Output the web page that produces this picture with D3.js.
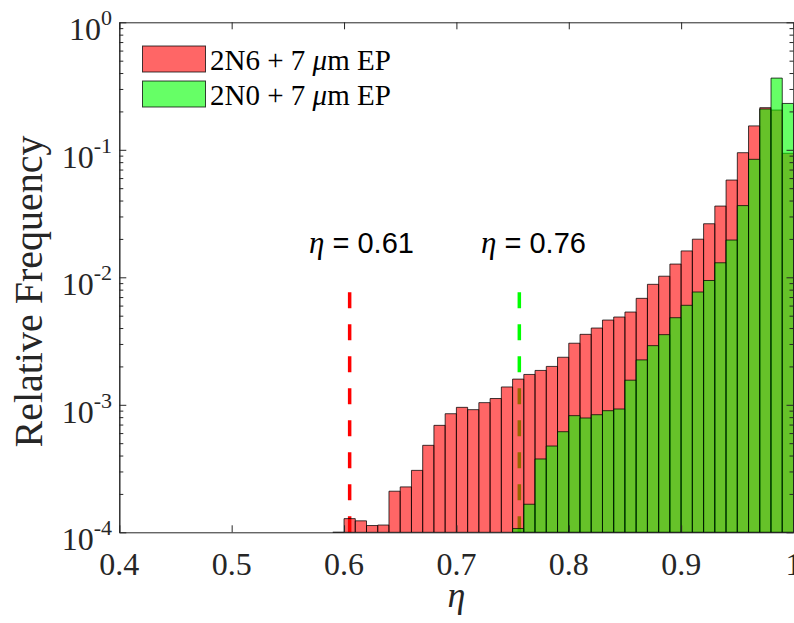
<!DOCTYPE html>
<html><head><meta charset="utf-8">
<script src="https://cdn.jsdelivr.net/npm/d3@7"></script>
<style>
html,body{margin:0;padding:0;background:#fff;}
svg{display:block;}
</style></head>
<body>
<svg id="chart" width="794" height="623"></svg>
<script>
// ---- data ----
const redBins = [0.59,0.60,0.61,0.62,0.63,0.64,0.65,0.66,0.67,0.68,0.69,0.70,0.71,0.72,0.73,0.74,0.75,0.76,0.77,0.78,0.79,0.80,0.81,0.82,0.83,0.84,0.85,0.86,0.87,0.88,0.89,0.90,0.91,0.92,0.93,0.94,0.95,0.96,0.97,0.98,0.99];
const redFreq = [1.0e-4,1.28e-4,1.23e-4,1.13e-4,1.14e-4,2.10e-4,2.27e-4,3.06e-4,4.81e-4,6.90e-4,8.51e-4,9.55e-4,9.16e-4,1.04e-3,1.12e-3,1.38e-3,1.59e-3,1.73e-3,1.86e-3,2.00e-3,2.36e-3,3.04e-3,3.57e-3,4.00e-3,4.62e-3,4.88e-3,5.34e-3,6.84e-3,8.81e-3,1.02e-2,1.27e-2,1.61e-2,1.99e-2,2.63e-2,3.62e-2,5.79e-2,9.49e-2,0.154,0.214,0.205,0.0939];
const greenBins = [0.75,0.76,0.77,0.78,0.79,0.80,0.81,0.82,0.83,0.84,0.85,0.86,0.87,0.88,0.89,0.90,0.91,0.92,0.93,0.94,0.95,0.96,0.97,0.98,0.99];
const greenFreq = [1.07e-4,1.66e-4,3.76e-4,4.75e-4,6.15e-4,8.22e-4,7.88e-4,8.36e-4,8.99e-4,9.27e-4,1.56e-3,2.25e-3,2.91e-3,3.55e-3,4.82e-3,6.03e-3,7.67e-3,9.44e-3,1.30e-2,1.96e-2,3.65e-2,8.42e-2,0.209,0.365,0.231];
const binWidth = 0.01;
const seriesNames = ["2N6 + 7 ", "2N0 + 7 "];
const xTicks = [0.4,0.5,0.6,0.7,0.8,0.9,1];
const xTickLabels = ["0.4","0.5","0.6","0.7","0.8","0.9","1"];
const yTicks = [1e-4,1e-3,1e-2,1e-1,1];
const yTickExps = ["-4","-3","-2","-1","0"];
const thresholds = [0.605, 0.756];
const thresholdLabels = ["0.61", "0.76"];
const thresholdTop = 1e-2;

// ---- layout ----
const svg = d3.select("#chart");
const X0 = 119.3, X1 = 793.5, Y0 = 532.3, Y1 = 22.3;
const x = d3.scaleLinear().domain([0.4, 1]).range([X0, X1]);
const y = d3.scaleLog().domain([1e-4, 1]).range([Y0, Y1]);
const serif = "'Liberation Serif','Times New Roman',serif";
const sans = "'Liberation Sans',Arial,sans-serif";
const axisColor = "#262626";

// threshold dashed lines (under bars)
const lineColors = ["#ff0000", "#00ff00"];
thresholds.forEach((t, i) => {
  svg.append("line")
    .attr("x1", x(t)).attr("x2", x(t))
    .attr("y1", y(1e-4)).attr("y2", y(thresholdTop))
    .attr("stroke", lineColors[i]).attr("stroke-width", 3.5)
    .attr("stroke-dasharray", "16,16");
});

function barPath(b, v) {
  const x0 = x(b), x1 = x(b + binWidth), yb = y(1e-4), yt = y(v);
  return `M${x0},${yb}V${yt}H${x1}V${yb}Z`;
}
const gBars = svg.append("g");
gBars.selectAll("path.red").data(redBins).join("path")
  .attr("class","red")
  .attr("d", (b, i) => barPath(b, redFreq[i]))
  .attr("fill", "rgba(255,0,0,0.6)")
  .attr("stroke", "rgba(0,0,0,0.75)").attr("stroke-width", 1);
gBars.selectAll("path.green").data(greenBins).join("path")
  .attr("class","green")
  .attr("d", (b, i) => barPath(b, greenFreq[i]))
  .attr("fill", "rgba(0,255,0,0.6)")
  .attr("stroke", "rgba(0,0,0,0.75)").attr("stroke-width", 1);

// ---- axes ----
const minorY = [];
yTicks.slice(0, -1).forEach(d => { for (let k = 2; k <= 9; k++) minorY.push(d * k); });

function styleAxis(g) {
  g.selectAll("path.domain").attr("stroke", axisColor).attr("stroke-width", 1);
  g.selectAll(".tick line").attr("stroke", axisColor).attr("stroke-width", 1);
  g.selectAll(".tick text").remove();
}
svg.append("g").attr("transform", `translate(0,${Y0})`)
  .call(d3.axisBottom(x).tickValues(xTicks).tickSize(-7).tickSizeOuter(0)).call(styleAxis);
svg.append("g").attr("transform", `translate(0,${Y1})`)
  .call(d3.axisTop(x).tickValues(xTicks).tickSize(-7).tickSizeOuter(0)).call(styleAxis);
svg.append("g").attr("transform", `translate(${X0},0)`)
  .call(d3.axisLeft(y).tickValues(yTicks).tickSize(-7).tickSizeOuter(0)).call(styleAxis);
svg.append("g").attr("transform", `translate(${X0},0)`)
  .call(d3.axisLeft(y).tickValues(minorY).tickSize(-4).tickSizeOuter(0)).call(styleAxis);
svg.append("g").attr("transform", `translate(${X1},0)`)
  .call(d3.axisRight(y).tickValues(yTicks).tickSize(-7).tickSizeOuter(0)).call(styleAxis);
svg.append("g").attr("transform", `translate(${X1},0)`)
  .call(d3.axisRight(y).tickValues(minorY).tickSize(-4).tickSizeOuter(0)).call(styleAxis);

// x tick labels
svg.append("g").selectAll("text").data(xTicks).join("text")
  .attr("x", d => x(d)).attr("y", Y0 + 43)
  .attr("text-anchor", "middle")
  .attr("font-family", serif).attr("font-size", 32).attr("fill", axisColor)
  .text((d, i) => xTickLabels[i]);

// y tick labels with superscripts
const yl = svg.append("g").selectAll("text").data(yTicks).join("text")
  .attr("x", 112).attr("y", d => y(d) + 18)
  .attr("text-anchor", "end")
  .attr("font-family", serif).attr("font-size", 32).attr("fill", axisColor);
yl.append("tspan").text("10");
yl.append("tspan").attr("dy", -15).attr("font-size", 22).text((d, i) => yTickExps[i]);

// axis titles
svg.append("text")
  .attr("x", x(0.7)).attr("y", 607)
  .attr("text-anchor", "middle")
  .attr("font-family", serif).attr("font-style", "italic").attr("font-size", 36).attr("fill", axisColor)
  .text("η");
svg.append("text")
  .attr("transform", `translate(42,291.5) rotate(-90)`)
  .attr("text-anchor", "middle")
  .attr("font-family", serif).attr("font-size", 40).attr("fill", axisColor)
  .text("Relative Frequency");

// threshold annotations
const annX = [0.6155, 0.7686];
thresholds.forEach((t, i) => {
  const tx = svg.append("text")
    .attr("x", x(annX[i])).attr("y", y(0.0156))
    .attr("text-anchor", "middle")
    .attr("font-family", sans).attr("font-size", 29).attr("fill", "#000");
  tx.append("tspan").attr("font-family", serif).attr("font-style", "italic").attr("font-size", 31).text("η");
  tx.append("tspan").text(" = " + thresholdLabels[i]);
});

// legend
const legFill = ["rgba(255,0,0,0.6)", "rgba(0,255,0,0.6)"];
seriesNames.forEach((name, i) => {
  const top = 46 + i * 35;
  svg.append("rect").attr("x", 142.5).attr("y", top).attr("width", 63).attr("height", 26)
    .attr("fill", legFill[i]).attr("stroke", "rgba(0,0,0,0.75)").attr("stroke-width", 1);
  const t = svg.append("text").attr("x", 210).attr("y", top + 24)
    .attr("font-family", serif).attr("font-size", 29).attr("fill", "#000");
  t.append("tspan").text(name);
  t.append("tspan").attr("font-style", "italic").text("μ");
  t.append("tspan").text("m EP");
});
</script>
</body></html>
